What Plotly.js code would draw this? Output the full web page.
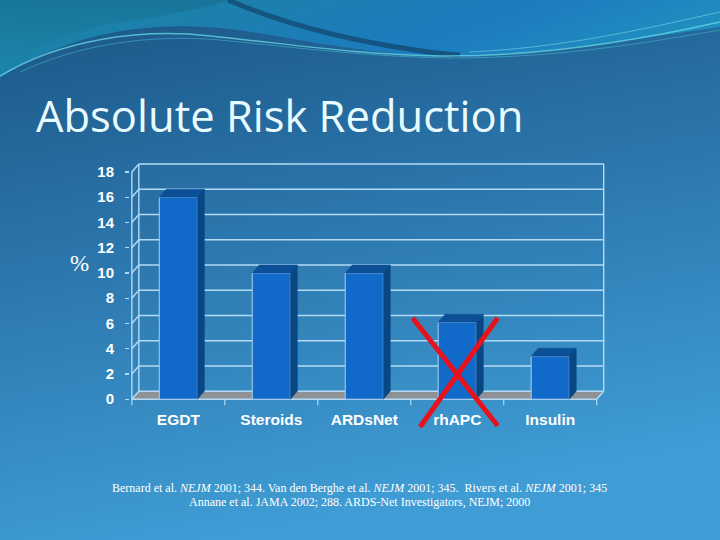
<!DOCTYPE html>
<html><head><meta charset="utf-8">
<script src="https://cdn.plot.ly/plotly-3.0.1.min.js"></script>
<style>html,body{margin:0;padding:0;background:#245f92;}#chart{width:720px;height:540px;}</style>
</head><body><div id="chart"></div>
<script>
// ---- data ----
const categories = ['EGDT', 'Steroids', 'ARDsNet', 'rhAPC', 'Insulin'];
const values = [16.0, 10.0, 10.0, 6.1, 3.4];
const yTicks = [0, 2, 4, 6, 8, 10, 12, 14, 16, 18];
const crossedCategory = 'rhAPC';
const titleText = 'Absolute Risk Reduction';
const yLabel = '%';
const refLine1 = 'Bernard et al. <i>NEJM</i> 2001; 344. Van den Berghe et al. <i>NEJM</i> 2001; 345.  Rivers et al. <i>NEJM</i> 2001; 345';
const refLine2 = 'Annane et al. JAMA 2002; 288. ARDS-Net Investigators, NEJM; 2000';

// ---- geometry ----
const W = 720, H = 540;
const M = {l: 130, r: 114, t: 160, b: 137};
const xr = [-0.52, 4.6], yr = [-0.3, 18.95];
const barW = 0.41, dx = 0.075, dy = 0.635;
const nCat = categories.length;
const xs = categories.map((c, i) => i);
const yMax = yTicks[yTicks.length - 1];
const pw = W - M.l - M.r, ph = H - M.t - M.b;
const pX = v => (v - xr[0]) / (xr[1] - xr[0]);
const pY = v => (v - yr[0]) / (yr[1] - yr[0]);
const pxX = p => (p - M.l) / pw;
const pxY = p => (H - M.b - p) / ph;

const lineCol = '#b4dbf5';
const shapes = [];
function seg(x0, y0, x1, y1, w, col) {
  shapes.push({type: 'line', xref: 'x', yref: 'y', x0, y0, x1, y1, layer: 'below',
    line: {color: col || lineCol, width: w || 1.4}});
}
const L = -0.5, R = nCat - 0.5;
// floor
shapes.push({type: 'path', xref: 'x', yref: 'y', layer: 'below',
  path: `M${L},0 L${R},0 L${R + dx},${dy} L${L + dx},${dy} Z`,
  fillcolor: '#8e9297', line: {width: 0}});
// back wall grid + left wall diagonals
yTicks.forEach(v => {
  seg(L + dx, v + dy, R + dx, v + dy);
  seg(L, v, L + dx, v + dy);
});
seg(L + dx, dy, L + dx, yMax + dy);
seg(R + dx, dy, R + dx, yMax + dy);
seg(L, 0, L, yMax);
seg(L, 0, R, 0);
seg(R, 0, R + dx, dy);
// category boundary ticks below the front floor edge
for (let i = 0; i <= nCat; i++) {
  const b = i - 0.5;
  shapes.push({type: 'line', xref: 'paper', yref: 'paper', x0: pX(b), x1: pX(b),
    y0: pY(0), y1: pY(0) - 6 / ph, line: {color: lineCol, width: 1.2}});
}
// red cross over the crossed category
const ci = categories.indexOf(crossedCategory);
const cv = values[ci];
shapes.push({type: 'line', xref: 'paper', yref: 'paper', layer: 'above',
  x0: pX(ci - 0.48), y0: pY(cv + 0.33), x1: pX(ci + 0.435), y1: pY(-2.1),
  line: {color: '#e8121c', width: 5}});
shapes.push({type: 'line', xref: 'paper', yref: 'paper', layer: 'above',
  x0: pX(ci + 0.435), y0: pY(cv + 0.33), x1: pX(ci - 0.4), y1: pY(-2.2),
  line: {color: '#e8121c', width: 5}});

// 3D faces
const topX = [], topY = [], sideX = [], sideY = [];
xs.forEach((x, i) => {
  const v = values[i], a = x - barW / 2, b = x + barW / 2;
  topX.push(a, b, b + dx, a + dx, a, null);
  topY.push(v, v, v + dy, v + dy, v, null);
  sideX.push(b, b + dx, b + dx, b, b, null);
  sideY.push(0, dy, v + dy, v, 0, null);
});

const traces = [
  {type: 'bar', x: xs, y: values, width: barW, marker: {color: '#1169c9', line: {color: '#a8d2f0', width: 1}}, hoverinfo: 'skip'},
  {type: 'scatter', x: topX, y: topY, mode: 'lines', fill: 'toself', fillcolor: '#0b4f96', line: {color: '#0b4f96', width: 0.5}, hoverinfo: 'skip'},
  {type: 'scatter', x: sideX, y: sideY, mode: 'lines', fill: 'toself', fillcolor: '#094784', line: {color: '#094784', width: 0.5}, hoverinfo: 'skip'}
];

// background slide image
const svg = `<svg xmlns='http://www.w3.org/2000/svg' width='720' height='540' viewBox='0 0 720 540'>
<defs>
<linearGradient id='g' x1='0' y1='0' x2='0.25' y2='1'>
<stop offset='0' stop-color='#1a5584'/><stop offset='0.45' stop-color='#2a74aa'/><stop offset='1' stop-color='#3f9cd4'/></linearGradient>
<linearGradient id='t' x1='0' y1='0' x2='1' y2='0.3'>
<stop offset='0' stop-color='#1a86a4'/><stop offset='0.35' stop-color='#1c7fae'/><stop offset='0.7' stop-color='#1d7bbf'/><stop offset='1' stop-color='#1f8fbf'/></linearGradient>
<linearGradient id='u' x1='0' y1='0' x2='0' y2='1'>
<stop offset='0' stop-color='#176f93'/><stop offset='1' stop-color='#1c86aa'/></linearGradient>
</defs>
<rect width='720' height='540' fill='url(#g)'/>
<path d='M0,0 L720,0 L720,27 C640,38 540,56 450,56 C370,56 300,38 230,29 C150,20 70,32 0,78 Z' fill='url(#t)'/>
<path d='M0,0 L230,0 C200,10 150,18 110,24 C70,32 30,50 0,70 Z' fill='url(#u)' opacity='0.7'/>
<path d='M228,0 C270,18 320,34 390,46 C420,51 440,54 460,55' fill='none' stroke='#134d78' stroke-width='5' opacity='0.85'/>
<path d='M0,76 C60,40 140,28 210,36 C290,44 360,55 440,56 C540,57 640,40 720,22' fill='none' stroke='#6ad8e6' stroke-width='1.4' opacity='0.75'/>
<path d='M20,72 C80,44 150,34 220,40 C300,48 370,57 450,58 C560,58 650,42 720,30' fill='none' stroke='#4cc0d8' stroke-width='1' opacity='0.5'/>
<path d='M470,52 C560,48 640,30 720,12' fill='none' stroke='#8fe6f0' stroke-width='1' opacity='0.5'/>
</svg>`;
const bgSrc = 'data:image/svg+xml;charset=utf-8,' + encodeURIComponent(svg);

const annotations = [
  {text: yLabel, xref: 'paper', yref: 'paper', x: pxX(68), y: pxY(263), showarrow: false,
    font: {family: 'Liberation Serif', size: 23, color: '#ffffff'}},
  {text: refLine1, xref: 'paper', yref: 'paper', x: pxX(359), y: pxY(497), showarrow: false,
    font: {family: 'Liberation Serif', size: 12, color: '#ffffff'}},
  {text: refLine2, xref: 'paper', yref: 'paper', x: pxX(359), y: pxY(511), showarrow: false,
    font: {family: 'Liberation Serif', size: 12, color: '#ffffff'}}
];

const layout = {
  width: W, height: H,
  margin: M,
  paper_bgcolor: 'rgba(0,0,0,0)', plot_bgcolor: 'rgba(0,0,0,0)',
  showlegend: false,
  title: {text: titleText, xref: 'container', yref: 'container', x: 36 / W, xanchor: 'left',
    y: 1 - 117 / H, yanchor: 'middle', font: {family: 'Open Sans', size: 43.5, color: '#e8fbff'}},
  xaxis: {range: xr, tickvals: xs, ticktext: categories, ticks: '', showgrid: false, zeroline: false,
    showline: false, ticklabelstandoff: 5, tickfont: {family: 'Liberation Sans', size: 15.5, color: '#ffffff', weight: 'bold'}},
  yaxis: {range: yr, tickvals: yTicks, ticks: 'outside', ticklen: 4, tickcolor: lineCol, tickwidth: 1.2,
    showgrid: false, zeroline: false, showline: false, ticklabelstandoff: 8,
    tickfont: {family: 'Liberation Sans', size: 15, color: '#ffffff', weight: 'bold'}},
  shapes, annotations,
  images: [{source: bgSrc, xref: 'paper', yref: 'paper', x: -M.l / pw, y: 1 + M.t / ph,
    sizex: W / pw, sizey: H / ph, xanchor: 'left', yanchor: 'top', sizing: 'stretch', layer: 'below'}]
};

Plotly.newPlot('chart', traces, layout, {staticPlot: true, displayModeBar: false});
</script>
</body></html>
